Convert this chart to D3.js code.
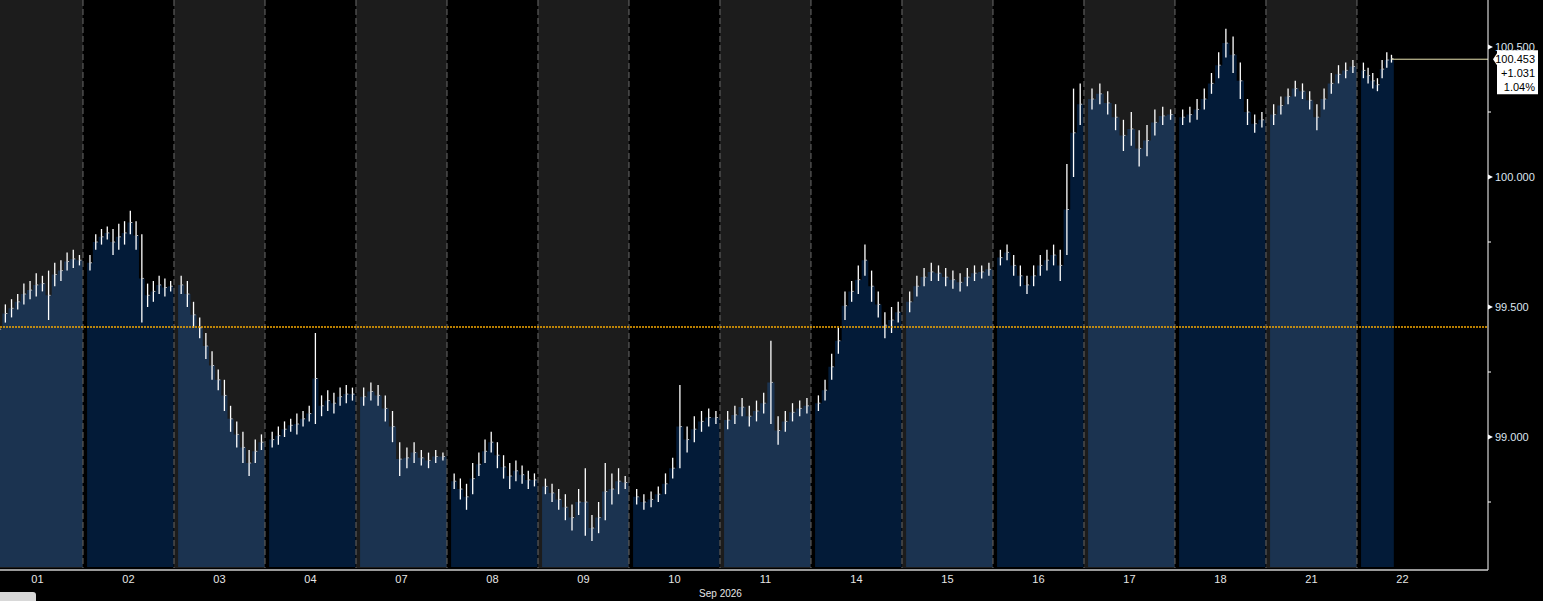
<!DOCTYPE html>
<html><head><meta charset="utf-8">
<script src="https://cdn.jsdelivr.net/npm/d3@7"></script>
<style>body{margin:0;background:#000;overflow:hidden}</style>
</head><body><div id="chart"></div>
<script>
// trading days shown on the x axis
const days = ['01','02','03','04','07','08','09','10','11','14','15','16','17','18','21','22'];
// bars per day: [low, high]
const bars = [
  [[99.37,99.46],[99.44,99.51],[99.46,99.53],[99.49,99.55],[99.51,99.59],[99.53,99.60],[99.54,99.63],[99.56,99.62],[99.45,99.64],[99.58,99.67],[99.60,99.68],[99.64,99.71],[99.65,99.72],[99.66,99.70]],
  [[99.64,99.70],[99.72,99.78],[99.74,99.80],[99.76,99.81],[99.70,99.80],[99.72,99.82],[99.74,99.83],[99.78,99.87],[99.72,99.83],[99.44,99.78],[99.50,99.59],[99.52,99.60],[99.55,99.62],[99.54,99.61],[99.56,99.60]],
  [[99.55,99.62],[99.50,99.60],[99.42,99.52],[99.38,99.46],[99.30,99.40],[99.22,99.33],[99.18,99.26],[99.10,99.22],[99.02,99.12],[98.96,99.06],[98.90,99.02],[98.85,98.95],[98.90,98.99],[98.95,99.01]],
  [[98.96,99.02],[98.97,99.04],[99.00,99.06],[99.02,99.07],[99.01,99.09],[99.04,99.10],[99.06,99.12],[99.05,99.40],[99.08,99.16],[99.10,99.18],[99.09,99.17],[99.12,99.19],[99.13,99.20],[99.14,99.19]],
  [[99.12,99.19],[99.14,99.21],[99.12,99.20],[99.06,99.16],[98.98,99.10],[98.85,98.98],[98.88,98.96],[98.90,98.98],[98.89,98.95],[98.88,98.94],[98.90,98.95],[98.91,98.94]],
  [[98.80,98.86],[98.76,98.84],[98.72,98.82],[98.78,98.90],[98.85,98.94],[98.90,98.99],[98.94,99.02],[98.88,98.98],[98.84,98.93],[98.80,98.90],[98.83,98.91],[98.82,98.89],[98.80,98.87],[98.81,98.86]],
  [[98.78,98.84],[98.75,98.82],[98.72,98.80],[98.68,98.78],[98.64,98.74],[98.70,98.80],[98.62,98.88],[98.60,98.70],[98.63,98.75],[98.68,98.90],[98.74,98.86],[98.78,98.88],[98.80,98.85]],
  [[98.74,98.80],[98.72,98.78],[98.73,98.79],[98.75,98.81],[98.78,98.86],[98.84,98.92],[98.88,99.20],[98.94,99.04],[98.98,99.08],[99.02,99.10],[99.04,99.11],[99.05,99.10]],
  [[99.03,99.10],[99.05,99.12],[99.08,99.15],[99.04,99.12],[99.06,99.14],[99.09,99.17],[99.05,99.37],[98.97,99.08],[99.02,99.10],[99.06,99.13],[99.08,99.14],[99.09,99.15]],
  [[99.10,99.16],[99.14,99.22],[99.22,99.32],[99.32,99.42],[99.45,99.56],[99.52,99.60],[99.55,99.66],[99.62,99.74],[99.52,99.64],[99.46,99.56],[99.38,99.48],[99.40,99.50],[99.44,99.52]],
  [[99.48,99.56],[99.54,99.62],[99.58,99.65],[99.60,99.67],[99.60,99.66],[99.58,99.65],[99.57,99.64],[99.56,99.63],[99.58,99.65],[99.60,99.66],[99.61,99.66],[99.62,99.67]],
  [[99.66,99.72],[99.68,99.74],[99.62,99.70],[99.58,99.66],[99.55,99.62],[99.58,99.66],[99.62,99.70],[99.64,99.72],[99.66,99.74],[99.60,99.72],[99.70,100.05],[100.00,100.34],[100.20,100.36]],
  [[100.26,100.34],[100.28,100.36],[100.24,100.33],[100.18,100.28],[100.10,100.22],[100.12,100.25],[100.04,100.18],[100.08,100.20],[100.16,100.26],[100.20,100.27],[100.22,100.26]],
  [[100.20,100.26],[100.21,100.27],[100.22,100.30],[100.26,100.34],[100.32,100.40],[100.38,100.48],[100.46,100.57],[100.40,100.54],[100.30,100.44],[100.20,100.30],[100.17,100.24],[100.19,100.25]],
  [[100.20,100.28],[100.24,100.31],[100.28,100.34],[100.31,100.37],[100.30,100.36],[100.26,100.33],[100.18,100.28],[100.26,100.34],[100.32,100.40],[100.36,100.43],[100.38,100.44],[100.40,100.45]],
  [[100.38,100.44],[100.36,100.42],[100.34,100.40],[100.33,100.38],[100.38,100.45],[100.42,100.48],[100.44,100.47]]
];
const yTicks = [99.0, 99.5, 100.0, 100.5];
const yMinor = [98.75, 99.25, 99.75, 100.25];
const refLevel = 99.423;
const last = {price: '100.453', chg: '+1.031', pct: '1.04%', value: 100.453};
const monthLabel = 'Sep 2026';

const W = 1543, H = 601, axisX = 1488, axisY = 568;
const svg = d3.select('#chart').append('svg').attr('width', W).attr('height', H)
  .style('font-family', 'Liberation Sans, sans-serif');

// x in "day units": day k covers [k, k+1]
const x = d3.scaleLinear().domain([0, 16.44]).range([-8, axisX]);
const y = d3.scaleLinear().domain([98.5, 100.5]).range([567, 47]);

// day background columns (only for days with data)
svg.append('g').selectAll('rect').data(d3.range(days.length)).join('rect')
  .attr('x', d => x(d)).attr('y', 0)
  .attr('width', d => x(d + 1) - x(d)).attr('height', axisY)
  .attr('fill', d => d % 2 === 0 ? '#1c1c1c' : '#000');

// area + bars per day
const fillFrac = i => i === days.length - 1 ? 0.36 : 0.95;
const posX = (k, i, n) => x(k + 0.045 + (i + 0.5) / n * fillFrac(k));
const area = d3.area().curve(d3.curveStepAfter).y0(567);
bars.forEach((b, k) => {
  const n = b.length;
  const pts = b.map((v, i) => [x(k + 0.045 + i / n * fillFrac(k)), y((v[0] + v[1]) / 2)]);
  pts.push([x(k + 0.045 + fillFrac(k)), pts[n - 1][1]]);
  svg.append('path').datum(pts)
    .attr('d', area.x(d => d[0]).y1(d => d[1]))
    .attr('fill', k % 2 === 0 ? '#1b3350' : '#031b38');
  const g = svg.append('g');
  g.selectAll('line.hl').data(b).join('line')
    .attr('x1', (d, i) => posX(k, i, n)).attr('x2', (d, i) => posX(k, i, n))
    .attr('y1', d => y(d[0])).attr('y2', d => y(d[1]))
    .attr('stroke', '#fff').attr('stroke-width', 1.3);
  g.selectAll('line.tk').data(b).join('line')
    .attr('x1', (d, i) => posX(k, i, n)).attr('x2', (d, i) => posX(k, i, n) + 2)
    .attr('y1', d => y((d[0] + d[1]) / 2)).attr('y2', d => y((d[0] + d[1]) / 2))
    .attr('stroke', '#bbb').attr('stroke-width', 1);
});

// dashed day separators
svg.append('g').selectAll('line').data(d3.range(1, days.length)).join('line')
  .attr('x1', d => x(d)).attr('x2', d => x(d)).attr('y1', 0).attr('y2', axisY)
  .attr('stroke', '#6a6a6a').attr('stroke-dasharray', '6,3');

// reference level
svg.append('line').attr('x1', 0).attr('x2', axisX)
  .attr('y1', y(refLevel)).attr('y2', y(refLevel))
  .attr('stroke', '#f5a800').attr('stroke-width', 1.5).attr('stroke-dasharray', '2,1');

// last price line
const lastBarX = posX(15, bars[15].length - 1, bars[15].length);
svg.append('line').attr('x1', lastBarX).attr('x2', axisX)
  .attr('y1', y(last.value)).attr('y2', y(last.value))
  .attr('stroke', '#e8e2b0').attr('stroke-width', 1);

// axes
svg.append('line').attr('x1', axisX).attr('x2', axisX).attr('y1', 0).attr('y2', axisY + 2)
  .attr('stroke', '#fff');
svg.append('line').attr('x1', 0).attr('x2', axisX).attr('y1', axisY + 2).attr('y2', axisY + 2)
  .attr('stroke', '#ccc').attr('stroke-width', 1.5);

const yt = svg.append('g');
yt.selectAll('path').data(yTicks).join('path')
  .attr('d', d => `M${axisX},${y(d) - 2.5}L${axisX + 5},${y(d)}L${axisX},${y(d) + 2.5}Z`)
  .attr('fill', '#fff');
yt.selectAll('text').data(yTicks).join('text')
  .attr('x', axisX + 7).attr('y', d => y(d) + 4)
  .attr('fill', '#dde6f0').attr('font-size', 11)
  .text(d3.format('.3f'));
svg.append('g').selectAll('line').data(yMinor).join('line')
  .attr('x1', axisX).attr('x2', axisX + 3).attr('y1', d => y(d)).attr('y2', d => y(d))
  .attr('stroke', '#fff');

// last price box
const by = y(last.value);
svg.append('path')
  .attr('d', `M${axisX + 5},${by}L${axisX + 9},${by - 6}L${axisX + 9},${by - 9}L1538,${by - 9}L1538,${by + 35}L${axisX + 9},${by + 35}L${axisX + 9},${by + 6}Z`)
  .attr('fill', '#fff');
svg.append('g').selectAll('text').data([last.price, last.chg, last.pct]).join('text')
  .attr('x', 1535).attr('y', (d, i) => by + 4 + i * 14)
  .attr('text-anchor', 'end').attr('font-size', 11).attr('fill', '#000')
  .text(d => d);

// x labels
svg.append('g').selectAll('text').data(days).join('text')
  .attr('x', (d, i) => x(i + 0.5)).attr('y', 583)
  .attr('text-anchor', 'middle').attr('font-size', 11).attr('fill', '#e6e6e6')
  .text(d => d);
svg.append('text').attr('x', x(8.5) - 45).attr('y', 597)
  .attr('text-anchor', 'middle').attr('font-size', 10).attr('fill', '#e6e6e6').text(monthLabel);

// scroll handle
svg.append('rect').attr('x', -4).attr('y', 592).attr('width', 40).attr('height', 14)
  .attr('rx', 3).attr('fill', '#d8d8d8');
</script></body></html>
